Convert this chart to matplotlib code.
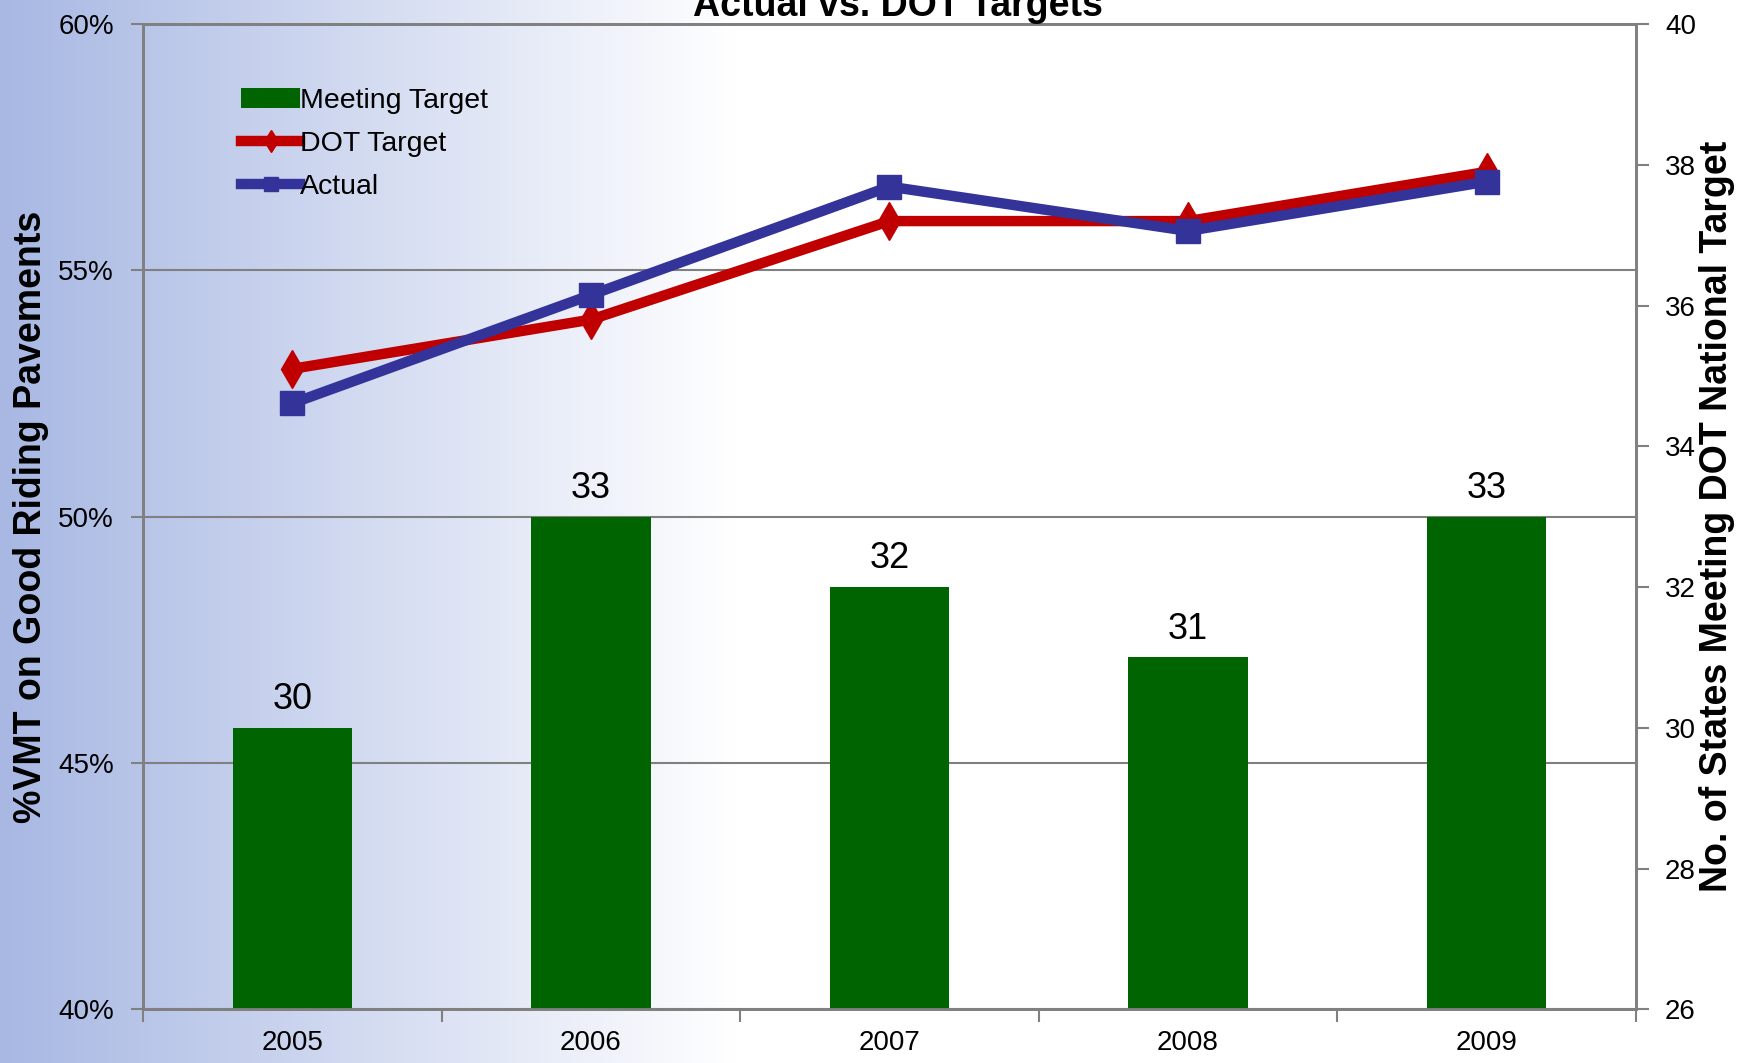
import numpy as np
import matplotlib
matplotlib.use("Agg")
import matplotlib.pyplot as plt
from matplotlib.colors import LinearSegmentedColormap
from matplotlib.ticker import FuncFormatter, MultipleLocator

plt.rcParams['font.family'] = ['Liberation Sans', 'DejaVu Sans']

# data
years = ['2005', '2006', '2007', '2008', '2009']
states_meeting = [30, 33, 32, 31, 33]          # right axis, bars
dot_target = [53.0, 54.0, 56.0, 56.0, 57.0]    # left axis, %
actual = [52.3, 54.5, 56.7, 55.8, 56.8]        # left axis, %

green = '#006400'
red = '#C00000'
blue = '#333399'
gray = '#808080'

fig = plt.figure(figsize=(17.54, 10.63), dpi=100)

# blue-to-white background gradient
bg = fig.add_axes([0, 0, 1, 1], zorder=-10)
grad_cmap = LinearSegmentedColormap.from_list('bg', ['#a8b8e3', '#ffffff'])
g = np.clip(np.linspace(0, 1, 600) / 0.42, 0, 1).reshape(1, -1)
bg.imshow(g, aspect='auto', cmap=grad_cmap, extent=[0, 1, 0, 1])
bg.axis('off')

ax1 = fig.add_axes([0.0815, 0.0505, 0.8512, 0.9269])
ax1.set_facecolor('none')
x = np.arange(len(years))

# percent lines on left axis
ax1.plot(x, dot_target, color=red, lw=7.5, marker='d', markersize=19,
         label='DOT Target', zorder=3)
ax1.plot(x, actual, color=blue, lw=7.5, marker='s', markersize=17,
         label='Actual', zorder=4)
ax1.set_ylim(40, 60)
ax1.set_xlim(-0.5, len(years) - 0.5)
ax1.yaxis.set_major_locator(MultipleLocator(5))
ax1.yaxis.set_major_formatter(FuncFormatter(lambda v, p: f'{v:.0f}%'))
ax1.grid(axis='y', color=gray, lw=1.5)
ax1.set_axisbelow(True)

# bars on right axis
ax2 = ax1.twinx()
bars = ax2.bar(x, states_meeting, width=0.4, color=green, label='Meeting Target', zorder=2)
ax2.set_ylim(26, 40)
ax2.yaxis.set_major_locator(MultipleLocator(2))
for xi, v in zip(x, states_meeting):
    ax2.text(xi, v + 0.15, str(v), ha='center', va='bottom', fontsize=26)

# x ticks between categories, labels centred
ax1.set_xticks(np.arange(-0.5, len(years)), minor=False)
ax1.set_xticklabels([])
ax1.set_xticks(x, minor=True)
ax1.set_xticklabels(years, minor=True)
ax1.tick_params(axis='x', which='minor', length=0, labelsize=20, pad=15)
ax1.tick_params(axis='x', which='major', length=9, width=1.5, color=gray)
ax1.tick_params(axis='y', length=9, width=1.5, color=gray, labelsize=20, pad=12)
ax2.tick_params(axis='y', length=9, width=1.5, color=gray, labelsize=20, pad=12)

for a in (ax1, ax2):
    for s in a.spines.values():
        s.set_color(gray)
        s.set_linewidth(2)

ax1.set_ylabel('%VMT on Good Riding Pavements', fontsize=27, fontweight='bold')
ax1.yaxis.set_label_coords(-0.063, 0.5)
ax2.set_ylabel('No. of States Meeting DOT National Target', fontsize=27, fontweight='bold',
               rotation=90)
ax2.yaxis.set_label_coords(1.042, 0.5)

fig.text(0.512, 0.985, 'Actual vs. DOT Targets', ha='center', va='baseline',
         fontsize=27, fontweight='bold')

h1, l1 = ax1.get_legend_handles_labels()
h2, l2 = ax2.get_legend_handles_labels()
ax2.legend(h2 + h1, l2 + l1, loc='upper left', bbox_to_anchor=(0.066, 0.935),
           frameon=False, fontsize=20.5, handlelength=2.05, handletextpad=0.0,
           labelspacing=0.6, borderpad=0, borderaxespad=0, markerscale=0.6)

fig.savefig('out.png', dpi=100)
